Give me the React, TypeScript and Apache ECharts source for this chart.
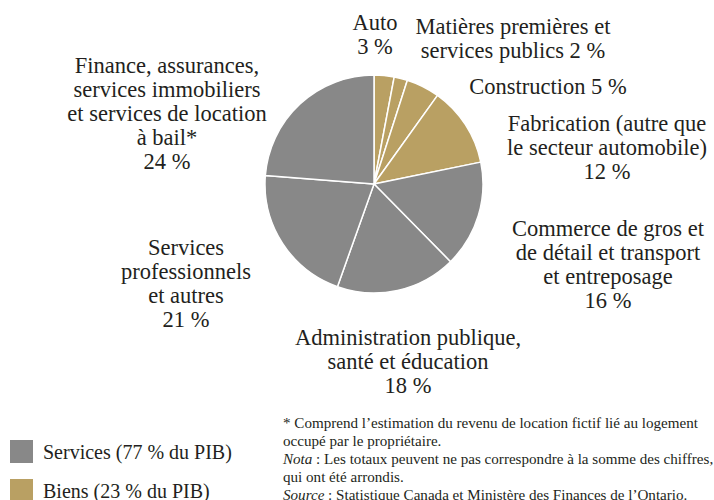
import React, { useEffect, useRef } from "react";
import * as echarts from "echarts";

const categories = [
  "Auto",
  "Matières premières et\nservices publics",
  "Construction",
  "Fabrication (autre que\nle secteur automobile)",
  "Commerce de gros et\nde détail et transport\net entreposage",
  "Administration publique,\nsanté et éducation",
  "Services\nprofessionnels\net autres",
  "Finance, assurances,\nservices immobiliers\net services de location\nà bail*",
];
const shares = [3, 2, 5, 12, 16, 18, 21, 24];
const sectorGroup = ["Biens", "Biens", "Biens", "Biens", "Services", "Services", "Services", "Services"];
const valueJoin = ["\n", " ", " ", "\n", "\n", "\n", "\n", "\n"];

const legendNames = ["Services (77 % du PIB)", "Biens (23 % du PIB)"];
const legendValues = [77, 23];
const legendGroups = ["Services", "Biens"];

const footnoteLines = [
  "* Comprend l’estimation du revenu de location fictif lié au logement",
  "occupé par le propriétaire.",
  "{i|Nota} : Les totaux peuvent ne pas correspondre à la somme des chiffres,",
  "qui ont été arrondis.",
  "{i|Source} : Statistique Canada et Ministère des Finances de l’Ontario.",
];

const groupColors: Record<string, string> = {
  Services: "#888888",
  Biens: "#B9A063",
};

// label anchor positions (centre of each label block)
const labelPos: [number, number][] = [
  [375, 34],
  [513, 38],
  [548, 86],
  [607, 147],
  [608, 264],
  [408, 361],
  [186, 283],
  [167, 113],
];

const FONT = "'Liberation Serif', 'DejaVu Serif', serif";
const TEXT = "#231F20";

export default function App() {
  const ref = useRef<HTMLDivElement>(null);
  useEffect(() => {
    document.body.style.margin = "0";
    if (!ref.current) return;
    const chart = echarts.init(ref.current, null, { renderer: "svg" });
    chart.setOption({
      animation: false,
      backgroundColor: "#FFFFFF",
      textStyle: { fontFamily: FONT, color: TEXT },
      legend: {
        data: legendNames,
        orient: "vertical",
        left: 10,
        top: 440,
        height: 120,
        padding: 0,
        itemWidth: 23,
        itemHeight: 23,
        itemGap: 16,
        icon: "rect",
        selectedMode: false,
        textStyle: { fontFamily: FONT, fontSize: 20, color: TEXT, padding: [0, 0, 0, 5] },
      },
      series: [
        {
          type: "pie",
          center: [374, 184],
          radius: 109,
          startAngle: 90,
          clockwise: true,
          silent: true,
          itemStyle: { borderColor: "#FFFFFF", borderWidth: 1.5 },
          label: {
            show: true,
            position: "outside",
            fontFamily: FONT,
            fontSize: 22.5,
            lineHeight: 24,
            color: TEXT,
            align: "center",
            overflow: "none",
            formatter: (p: any) => `${p.name}${valueJoin[p.dataIndex]}${p.value} %`,
          },
          labelLine: { show: false },
          labelLayout: (p: any) => ({
            x: labelPos[p.dataIndex][0],
            y: labelPos[p.dataIndex][1],
            align: "center",
            verticalAlign: "middle",
          }),
          data: categories.map((c, i) => ({
            name: c,
            value: shares[i],
            itemStyle: { color: groupColors[sectorGroup[i]] },
          })),
        },
        {
          type: "pie",
          center: [-100, -100],
          radius: 0,
          silent: true,
          label: { show: false },
          labelLine: { show: false },
          data: legendNames.map((n, i) => ({
            name: n,
            value: legendValues[i],
            itemStyle: { color: groupColors[legendGroups[i]] },
          })),
        },
      ],
      graphic: [
        {
          type: "text",
          left: 283,
          top: 414,
          style: {
            text: footnoteLines.join("\n"),
            fontFamily: FONT,
            fontSize: 15.1,
            lineHeight: 18,
            fill: TEXT,
            rich: {
              i: { fontFamily: FONT, fontSize: 15.1, fontStyle: "italic", fill: TEXT, lineHeight: 18 },
            },
          },
        },
      ],
    });
    return () => chart.dispose();
  }, []);
  return <div ref={ref} style={{ width: 714, height: 500 }} />;
}
